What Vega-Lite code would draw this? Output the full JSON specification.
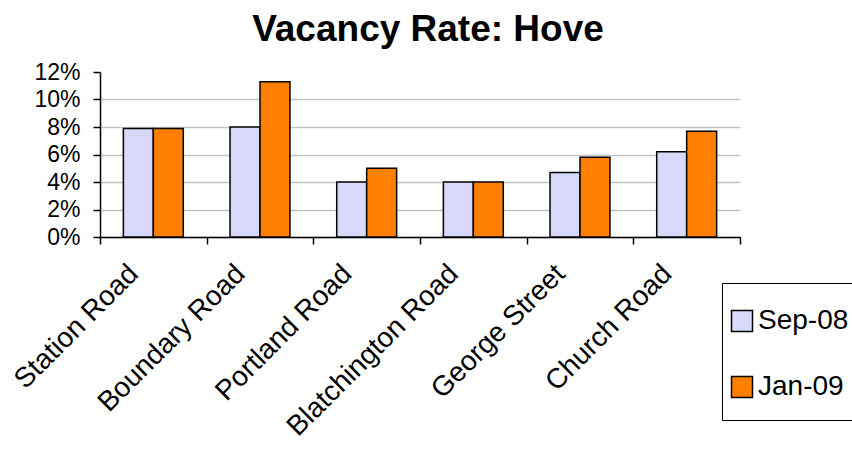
{
  "$schema": "https://vega.github.io/schema/vega-lite/v6.json",
  "autosize": "none",
  "width": 640,
  "height": 165,
  "padding": {"left": 100, "top": 72, "right": 112, "bottom": 216},
  "background": "white",
  "config": {"font": "Liberation Sans", "view": {"stroke": null}},
  "title": {"text": "Vacancy Rate: Hove", "fontSize": 37, "fontWeight": "bold", "color": "black", "anchor": "middle", "frame": "group", "baseline": "alphabetic", "offset": 20, "dx": 8, "dy": 37},
  "data": {"values": [
    {"street": "Station Road", "period": "Sep-08", "rate": 0.079},
    {"street": "Station Road", "period": "Jan-09", "rate": 0.079},
    {"street": "Boundary Road", "period": "Sep-08", "rate": 0.080},
    {"street": "Boundary Road", "period": "Jan-09", "rate": 0.113},
    {"street": "Portland Road", "period": "Sep-08", "rate": 0.040},
    {"street": "Portland Road", "period": "Jan-09", "rate": 0.050},
    {"street": "Blatchington Road", "period": "Sep-08", "rate": 0.040},
    {"street": "Blatchington Road", "period": "Jan-09", "rate": 0.040},
    {"street": "George Street", "period": "Sep-08", "rate": 0.047},
    {"street": "George Street", "period": "Jan-09", "rate": 0.058},
    {"street": "Church Road", "period": "Sep-08", "rate": 0.062},
    {"street": "Church Road", "period": "Jan-09", "rate": 0.077}
  ]},
  "mark": {"type": "bar", "stroke": "black", "strokeWidth": 1.5},
  "encoding": {
    "x": {
      "field": "street", "type": "nominal", "sort": null,
      "scale": {"paddingInner": 0, "paddingOuter": 0},
      "axis": {"title": null, "labelAngle": -45, "labelAlign": "right", "labelBaseline": "alphabetic", "labelFontSize": 28, "labelColor": "black", "labelPadding": 31, "labelOffset": -14, "labelLimit": 400, "tickBand": "extent", "tickSize": 7, "tickColor": "black", "tickWidth": 1.5, "domainColor": "black", "domainWidth": 1.5, "grid": false, "labelOverlap": false, "labelBound": false}
    },
    "xOffset": {"field": "period", "type": "nominal", "sort": ["Sep-08", "Jan-09"], "scale": {"paddingInner": 0, "paddingOuter": 0.78}},
    "y": {
      "field": "rate", "type": "quantitative",
      "scale": {"domain": [0, 0.12], "nice": false},
      "axis": {"title": null, "values": [0, 0.02, 0.04, 0.06, 0.08, 0.1, 0.12], "format": ".0%", "labelFontSize": 23, "labelColor": "black", "labelPadding": 13, "tickSize": 7, "tickColor": "black", "tickWidth": 1.5, "domainColor": "black", "domainWidth": 1.5, "grid": true, "gridColor": {"condition": {"test": "datum.value >= 0.12", "value": "transparent"}, "value": "#c4c4c4"}, "gridWidth": 1.5}
    },
    "color": {
      "field": "period", "type": "nominal", "sort": ["Sep-08", "Jan-09"],
      "scale": {"domain": ["Sep-08", "Jan-09"], "range": ["#d8d8fa", "#ff8000"]},
      "legend": {
        "title": " ", "titleFontSize": 14, "titlePadding": 4,
        "orient": "none", "legendX": 622, "legendY": 211,
        "strokeColor": "black", "fillColor": "white", "padding": 6,
        "symbolType": "square", "symbolSize": 441, "symbolStrokeColor": "black", "symbolStrokeWidth": 1.5, "symbolOpacity": 1,
        "labelFontSize": 28, "labelColor": "black", "labelOffset": 2, "rowPadding": 25,
        "labelExpr": "[datum.label, ' ']",
        "labelLimit": 300,
        "encode": {"labels": {"update": {"lineHeight": {"value": 13}}}}
      }
    }
  }
}
